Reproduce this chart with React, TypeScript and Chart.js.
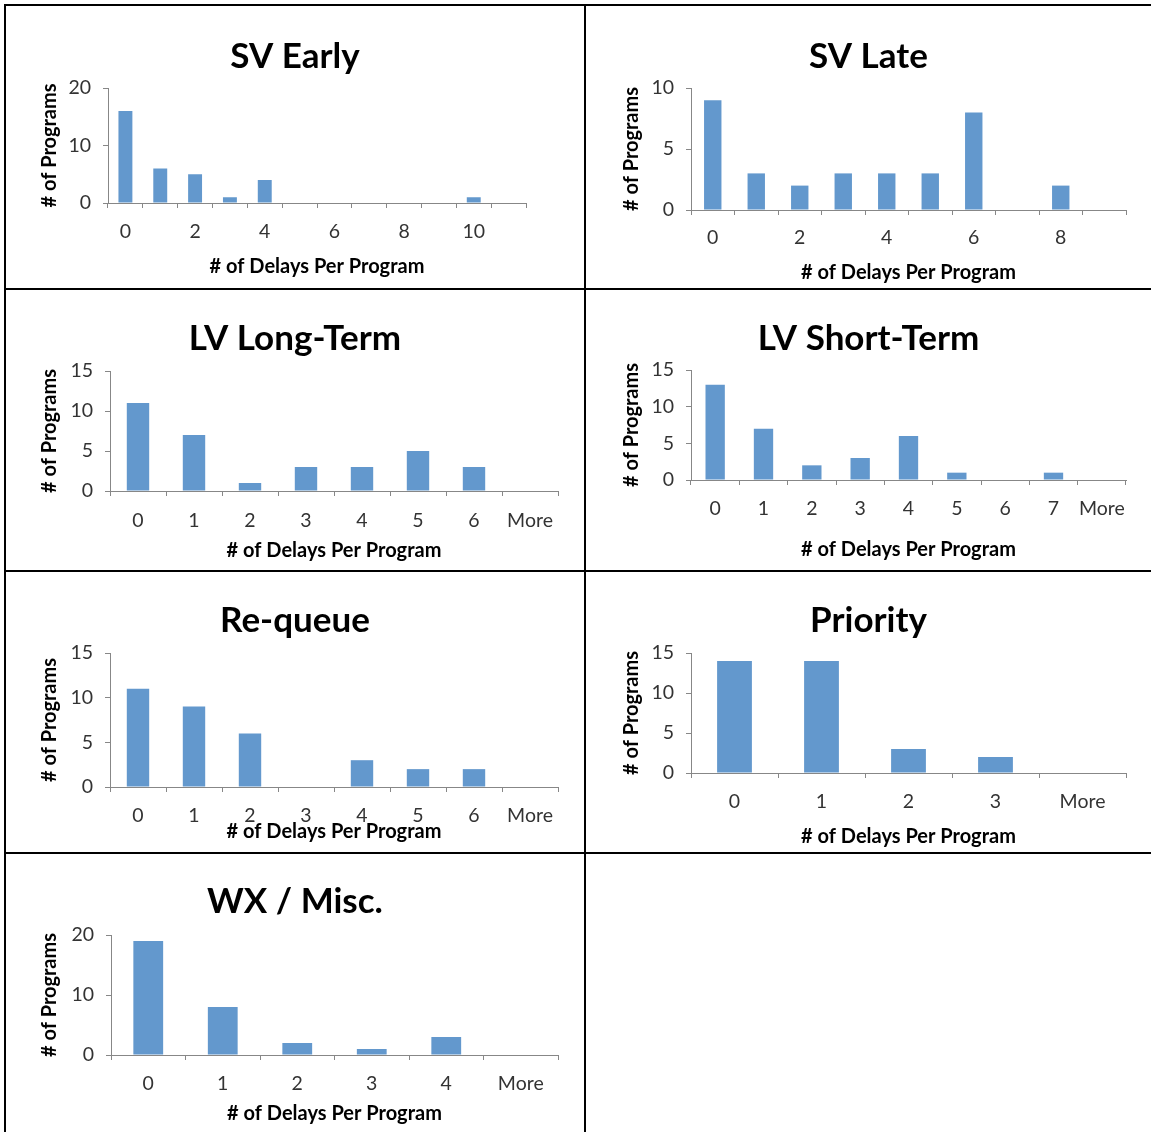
import React, { useEffect, useRef } from 'react';
import { Chart, registerables } from 'chart.js';

Chart.register(...registerables);

// ---------- data ----------
const svEarlyCategories = ['0', '1', '2', '3', '4', '5', '6', '7', '8', '9', '10', 'More'];
const svEarlyValues = [16, 6, 5, 1, 4, 0, 0, 0, 0, 0, 1, 0];

const svLateCategories = ['0', '1', '2', '3', '4', '5', '6', '7', '8', 'More'];
const svLateValues = [9, 3, 2, 3, 3, 3, 8, 0, 2, 0];

const lvLongCategories = ['0', '1', '2', '3', '4', '5', '6', 'More'];
const lvLongValues = [11, 7, 1, 3, 3, 5, 3, 0];

const lvShortCategories = ['0', '1', '2', '3', '4', '5', '6', '7', 'More'];
const lvShortValues = [13, 7, 2, 3, 6, 1, 0, 1, 0];

const requeueCategories = ['0', '1', '2', '3', '4', '5', '6', 'More'];
const requeueValues = [11, 9, 6, 0, 3, 2, 2, 0];

const priorityCategories = ['0', '1', '2', '3', 'More'];
const priorityValues = [14, 14, 3, 2, 0];

const wxCategories = ['0', '1', '2', '3', '4', 'More'];
const wxValues = [19, 8, 2, 1, 3, 0];

const panelTitles = ['SV Early', 'SV Late', 'LV Long-Term', 'LV Short-Term', 'Re-queue', 'Priority', 'WX / Misc.'];
const yMaxima = [20, 10, 15, 15, 15, 15, 20];
const yStepSizes = [10, 5, 5, 5, 5, 5, 10];
const labelEvery = [2, 2, 1, 1, 1, 1, 1];

const X_TITLE = '# of Delays Per Program';
const Y_TITLE = '# of Programs';

// ---------- layout (page coordinates) ----------
type Geom = {
  cell: [number, number, number, number];
  left: number; right: number; top: number; bottom: number;
  titleY: number; labelY: number; xTitleY: number; yTitleX: number;
};

const geoms: Geom[] = [
  { cell: [6, 6, 578, 282], left: 108, right: 526, top: 88, bottom: 203, titleY: 57, labelY: 232, xTitleY: 267, yTitleX: 50 },
  { cell: [586, 6, 565, 282], left: 691, right: 1126, top: 88, bottom: 210, titleY: 57, labelY: 238, xTitleY: 273, yTitleX: 632 },
  { cell: [6, 290, 578, 280], left: 110, right: 558, top: 371, bottom: 491, titleY: 339, labelY: 521, xTitleY: 551, yTitleX: 50 },
  { cell: [586, 290, 565, 280], left: 691, right: 1126, top: 370, bottom: 480, titleY: 339, labelY: 509, xTitleY: 550, yTitleX: 632 },
  { cell: [6, 572, 578, 280], left: 110, right: 558, top: 653, bottom: 787, titleY: 621, labelY: 816, xTitleY: 832, yTitleX: 50 },
  { cell: [586, 572, 565, 280], left: 691, right: 1126, top: 653, bottom: 773, titleY: 621, labelY: 802, xTitleY: 837, yTitleX: 632 },
  { cell: [6, 854, 578, 278], left: 111, right: 558, top: 935, bottom: 1055, titleY: 902, labelY: 1084, xTitleY: 1114, yTitleX: 50 },
];

const FONT = 'Lato, "Open Sans", "DejaVu Sans", sans-serif';
const TITLE_SIZE = 35;
const AXIS_TITLE_SIZE = 20;
const TICK_SIZE = 19.5;
const LH = 1.2;
const TL = 5;
const BAR_COLOR = '#6398CD';
const AXIS_COLOR = '#878787';
const TICK_COLOR = '#333333';

type Spec = { title: string; labels: string[]; values: number[]; yMax: number; yStep: number; every: number; g: Geom };

const specs: Spec[] = [
  [svEarlyCategories, svEarlyValues],
  [svLateCategories, svLateValues],
  [lvLongCategories, lvLongValues],
  [lvShortCategories, lvShortValues],
  [requeueCategories, requeueValues],
  [priorityCategories, priorityValues],
  [wxCategories, wxValues],
].map(([labels, values], i) => ({
  title: panelTitles[i],
  labels: labels as string[],
  values: values as number[],
  yMax: yMaxima[i],
  yStep: yStepSizes[i],
  every: labelEvery[i],
  g: geoms[i],
}));

function Panel({ spec }: { spec: Spec }) {
  const ref = useRef<HTMLCanvasElement>(null);
  const [cx, cy, cw, ch] = spec.g.cell;

  useEffect(() => {
    const g = spec.g;
    const titleLH = TITLE_SIZE * LH;
    const axisLH = AXIS_TITLE_SIZE * LH;
    const tickLH = TICK_SIZE * LH;
    const padR = cx + cw - g.right;
    const padL = padR; // keeps the chart title centred in the cell
    const yWidth = g.left - cx - padL;
    const titlePadTop = g.titleY - cy - titleLH / 2;
    const titlePadBottom = g.top - cy - titleLH - titlePadTop;
    const every = spec.every;

    const chart = new Chart(ref.current as HTMLCanvasElement, {
      type: 'bar',
      data: {
        labels: spec.labels,
        datasets: [
          {
            data: spec.values,
            backgroundColor: BAR_COLOR,
            borderWidth: 0,
            categoryPercentage: 0.4,
            barPercentage: 1,
          },
        ],
      },
      options: {
        responsive: false,
        animation: false,
        devicePixelRatio: 1,
        layout: { padding: { left: padL, right: padR, top: 0, bottom: 0 } },
        plugins: {
          legend: { display: false },
          tooltip: { enabled: false },
          title: {
            display: true,
            text: spec.title,
            color: '#000000',
            font: { family: FONT, size: TITLE_SIZE, weight: 'bold', lineHeight: LH },
            padding: { top: titlePadTop, bottom: titlePadBottom },
          },
        },
        scales: {
          x: {
            type: 'category',
            grid: {
              display: true,
              drawOnChartArea: false,
              drawTicks: true,
              tickLength: TL,
              color: AXIS_COLOR,
              lineWidth: 1,
              offset: true,
            },
            border: { display: true, color: AXIS_COLOR, width: 1 },
            ticks: {
              autoSkip: false,
              maxRotation: 0,
              minRotation: 0,
              color: TICK_COLOR,
              font: { family: FONT, size: TICK_SIZE, lineHeight: LH },
              padding: g.labelY - g.bottom - TL - tickLH / 2,
              callback: function (this: any, val: any, idx: number) {
                return idx % every === 0 ? this.getLabelForValue(val) : '';
              },
            },
            title: {
              display: true,
              text: X_TITLE,
              color: '#000000',
              font: { family: FONT, size: AXIS_TITLE_SIZE, weight: 'bold', lineHeight: LH },
              padding: { top: 0, bottom: cy + ch - g.xTitleY - axisLH / 2 },
            },
            afterFit: (s: any) => {
              s.height = cy + ch - g.bottom;
            },
          },
          y: {
            min: 0,
            max: spec.yMax,
            grid: {
              display: true,
              drawOnChartArea: false,
              drawTicks: true,
              tickLength: TL,
              color: AXIS_COLOR,
              lineWidth: 1,
            },
            border: { display: true, color: AXIS_COLOR, width: 1 },
            ticks: {
              stepSize: spec.yStep,
              color: TICK_COLOR,
              font: { family: FONT, size: TICK_SIZE, lineHeight: LH },
              padding: 12,
            },
            title: {
              display: true,
              text: Y_TITLE,
              color: '#000000',
              font: { family: FONT, size: AXIS_TITLE_SIZE, weight: 'bold', lineHeight: LH },
              padding: { top: g.yTitleX - (cx + padL) - axisLH / 2, bottom: 0 },
            },
            afterFit: (s: any) => {
              s.width = yWidth;
            },
          },
        },
      } as any,
    });
    return () => chart.destroy();
  }, [spec]);

  return (
    <canvas
      ref={ref}
      width={cw}
      height={ch}
      style={{ position: 'absolute', left: cx, top: cy, width: cw, height: ch }}
    />
  );
}

const lineStyle = (left: number, top: number, width: number, height: number): React.CSSProperties => ({
  position: 'absolute',
  left,
  top,
  width,
  height,
  background: '#000000',
});

export default function App() {
  return (
    <div
      style={{
        position: 'absolute',
        left: 0,
        top: 0,
        width: 1151,
        height: 1132,
        background: '#ffffff',
        overflow: 'hidden',
      }}
    >
      {specs.map((s, i) => (
        <Panel key={i} spec={s} />
      ))}
      <div style={lineStyle(4, 4, 1147, 2)} />
      <div style={lineStyle(4, 288, 1147, 2)} />
      <div style={lineStyle(4, 570, 1147, 2)} />
      <div style={lineStyle(4, 852, 1147, 2)} />
      <div style={lineStyle(4, 4, 2, 1128)} />
      <div style={lineStyle(584, 4, 2, 1128)} />
    </div>
  );
}
